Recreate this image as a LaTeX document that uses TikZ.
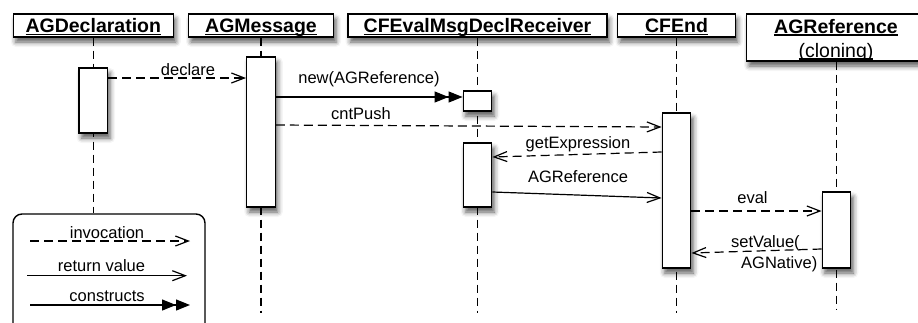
\documentclass[tikz,border=0pt]{standalone}
\usepackage{fontspec}
\setmainfont{Liberation Sans}
\usetikzlibrary{arrows.meta,shadows.blur}
\newcommand{\udl}[1]{\leavevmode\setbox0\hbox{#1}\rlap{\rule[-2.6pt]{\wd0}{1.2pt}}\box0}
\begin{document}
\begin{tikzpicture}[x=1pt,y=-1pt,
  shdw/.style={blur shadow={shadow xshift=2.5pt,shadow yshift=-5pt,shadow blur radius=5pt,shadow opacity=65}},
  hdr/.style={draw,line width=1.4pt,fill=white,inner sep=0pt,shdw,font=\fontsize{19.5}{23}\selectfont\bfseries,text height=14pt,text depth=0pt,minimum height=23pt},
  htxt/.style={font=\fontsize{19.5}{23}\selectfont,inner sep=0pt,anchor=base},
  act/.style={draw,line width=1.4pt,fill=white,inner sep=0pt,minimum width=28.5pt,shdw},
  life/.style={line width=1.2pt,dash pattern=on 8pt off 5pt},
  lbl/.style={font=\fontsize{16.5}{19}\selectfont,inner sep=0pt,anchor=base},
  inv/.style={line width=1.2pt,dash pattern=on 9pt off 5pt,-{Straight Barb[length=13pt,width=10pt]}},
  ret/.style={line width=1.2pt,-{Straight Barb[length=13pt,width=10pt]}},
  cons/.style={line width=1.2pt,-{Triangle[length=14pt,width=11pt,sep=0pt]Triangle[length=14pt,width=11pt]}}
]
\useasboundingbox (0,0) rectangle (918,322);
\clip (0,0) rectangle (918,322);

% legend box
\node[draw,line width=1.4pt,rounded corners=9pt,fill=white,minimum width=192pt,minimum height=130pt,inner sep=0pt] (leg) at (109,279) {};

% lifeline ends
\coordinate (eB) at (261,313);
\coordinate (eC) at (477.5,313);
\coordinate (eD) at (676.5,313);
\coordinate (eE) at (836.5,309);

% headers
\node[hdr,minimum width=160pt] (hA) at (93.3,25.5) {\udl{AGDeclaration}};
\node[hdr,minimum width=145pt] (hB) at (261,25.5) {\udl{AGMessage}};
\node[hdr,minimum width=259pt] (hC) at (477.5,25.5) {\udl{CFEvalMsgDeclReceiver}};
\node[hdr,minimum width=117.5pt] (hD) at (676.5,25.5) {\udl{CFEnd}};
\node[hdr,minimum width=180pt,minimum height=47pt,text height=0pt] (hE) at (836.5,37.5) {};
\node[htxt,font=\fontsize{19.5}{23}\selectfont\bfseries] (tE1) at (836,33) {\udl{AGReference}};
\node[htxt] (tE2) at (836,57) {\udl{(cloning)}};

% lifelines
\draw[life] (hA.south) -- (hA.south |- leg.north);
\draw[life] (hB.south) -- (eB);
\draw[life] (hC.south) -- (eC);
\draw[life] (hD.south) -- (eD);
\draw[life] (hE.south) -- (eE);

% activations
\node[act,minimum height=65pt] (aA) at (93.3,100.5) {};
\node[act,minimum height=150pt] (aB) at (261,132) {};
\node[act,minimum height=20pt] (aC1) at (477.5,101) {};
\node[act,minimum height=64pt] (aC2) at (477.5,175) {};
\node[act,minimum height=155pt] (aD) at (676.5,190.5) {};
\node[act,minimum height=76pt] (aE) at (836.5,230) {};

% messages
\draw[inv] (aA.east |- 0,78) -- (aB.west |- 0,78);
\draw[cons] (aB.east |- 0,97) -- (aC1.west |- 0,97);
\draw[inv] (aB.east |- 0,125) -- (aD.west |- 0,127);
\draw[inv] (aD.west |- 0,152) -- (aC2.east |- 0,157);
\draw[ret] (aC2.east |- 0,192) -- (aD.west |- 0,198);
\draw[inv] (aD.east |- 0,211) -- (aE.west |- 0,211);
\draw[inv] (aE.west |- 0,249) -- (aD.east |- 0,253);

\node[lbl] (l1) at (188,75) {declare};
\node[lbl] (l2) at (369,83) {new(AGReference)};
\node[lbl] (l3) at (361,119) {cntPush};
\node[lbl] (l4) at (578,148) {getExpression};
\node[lbl] (l5) at (578,182) {AGReference};
\node[lbl] (l6) at (752.5,203) {eval};
\node[lbl,anchor=base west] (l7) at (731,247) {setValue(};
\node[lbl,anchor=base west] (l8) at (741,268) {AGNative)};

% legend entries
\coordinate (i1) at (30,241);
\coordinate (i2) at (190,241);
\coordinate (r1) at (27,275.7);
\coordinate (r2) at (187,275.7);
\coordinate (c1) at (30,305);
\coordinate (c2) at (190,305);
\draw[inv] (i1) -- (i2);
\draw[ret] (r1) -- (r2);
\draw[cons] (c1) -- (c2);
\node[lbl] (g1) at (107,238.5) {invocation};
\node[lbl] (g2) at (101.5,271) {return value};
\node[lbl] (g3) at (107,301) {constructs};
\end{tikzpicture}
\end{document}
